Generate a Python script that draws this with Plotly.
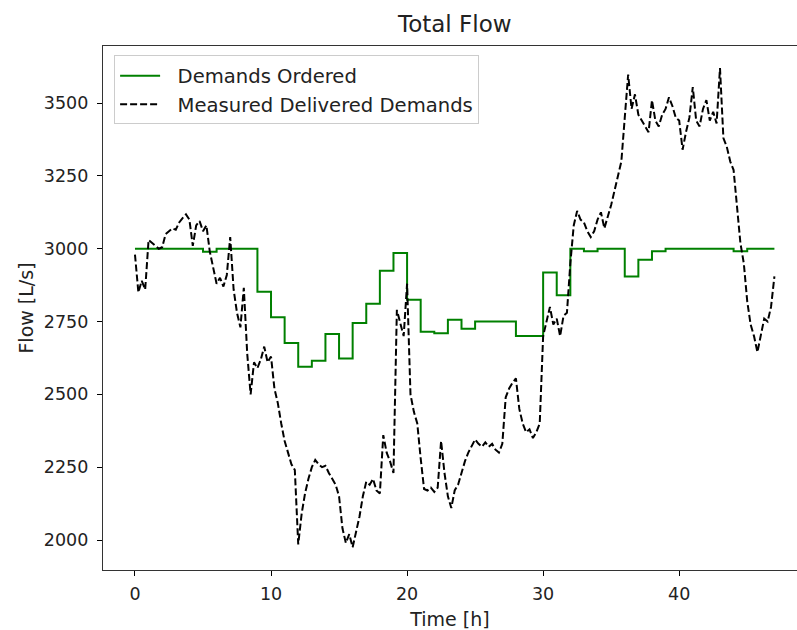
import numpy as np
import plotly.graph_objects as go

# --- data ---
ordered_hours = list(range(0, 48))
ordered_flow = [3000, 3000, 3000, 3000, 3000, 2990, 3000, 3000, 3000, 2852,
                2765, 2676, 2595, 2615, 2707, 2623, 2745, 2811, 2924, 2985,
                2825, 2715, 2710, 2756, 2725, 2750, 2750, 2750, 2700, 2700,
                2918, 2840, 3000, 2991, 3000, 3000, 2905, 2962, 2991, 3000,
                3000, 3000, 3000, 3000, 2991, 3000, 3000, 3000]

measured_time = np.arange(0, 47.01, 0.25)
measured_flow = [
    2980, 2850, 2890, 2860,
    3030, 3020, 3010, 3000,
    3005, 3050, 3060, 3070,
    3065, 3090, 3105, 3118,
    3100, 3010, 3080, 3095,
    3060, 3080, 2990, 2930,
    2880, 2900, 2870, 2910,
    3040, 2860, 2780, 2730,
    2866, 2640, 2500, 2610,
    2590, 2620, 2664, 2610,
    2630, 2520, 2470, 2400,
    2340, 2300, 2260, 2240,
    1985, 2090, 2160, 2210,
    2250, 2275, 2260, 2250,
    2255, 2230, 2210, 2190,
    2150, 2040, 1990, 2020,
    1975, 2030, 2080, 2150,
    2200, 2190, 2210, 2170,
    2160, 2360, 2300, 2270,
    2230, 2790, 2740, 2700,
    2880, 2500, 2440, 2400,
    2280, 2175, 2170, 2180,
    2165, 2180, 2340, 2230,
    2150, 2110, 2170, 2190,
    2230, 2270, 2300, 2320,
    2345, 2330, 2320, 2335,
    2320, 2330, 2310, 2300,
    2330, 2490, 2520, 2540,
    2555, 2450, 2400, 2370,
    2380, 2350, 2370, 2400,
    2700, 2750, 2800, 2740,
    2760, 2700, 2770, 2780,
    2950, 3080, 3130, 3100,
    3090, 3060, 3040, 3060,
    3100, 3125, 3070, 3110,
    3150, 3200, 3250, 3300,
    3450, 3598, 3480, 3530,
    3460, 3440, 3420, 3400,
    3510, 3440, 3420, 3460,
    3480, 3520, 3490, 3450,
    3440, 3340, 3400, 3450,
    3555, 3440, 3420, 3480,
    3510, 3440, 3470, 3430,
    3620, 3380, 3350, 3300,
    3270, 3150, 3020, 2950,
    2820, 2740, 2700, 2645,
    2700, 2760, 2750, 2800,
    2905,
]

x_ticks = [0, 10, 20, 30, 40]
y_ticks = [2000, 2250, 2500, 2750, 3000, 3250, 3500]

FONT = "DejaVu Sans"
NB = "\u00a0\u00a0"

fig = go.Figure()
fig.add_trace(go.Scatter(
    x=ordered_hours, y=ordered_flow, mode="lines", line_shape="hv",
    line=dict(color="#008000", width=2), name=NB + "Demands Ordered"))
fig.add_trace(go.Scatter(
    x=measured_time, y=measured_flow, mode="lines",
    line=dict(color="black", width=2, dash="7px,3px"),
    name=NB + "Measured Delivered Demands"))

fig.update_layout(
    width=797, height=630,
    margin=dict(l=103, r=0, t=46, b=60, pad=0),
    plot_bgcolor="white", paper_bgcolor="white",
    font=dict(family=FONT, size=19, color="#222222"),
    showlegend=True,
    legend=dict(x=0.016, y=0.982, xanchor="left", yanchor="top",
                bgcolor="rgba(255,255,255,0.85)", bordercolor="#cccccc",
                borderwidth=1, font=dict(family=FONT, size=19.6, color="#222222"),
                itemwidth=40, tracegroupgap=0),
    annotations=[dict(text="Total Flow", x=(454 - 103) / 694, y=1 + (46 - 24) / 524,
                      xref="paper", yref="paper", xanchor="center", yanchor="middle",
                      showarrow=False, font=dict(family=FONT, size=23, color="#222222"))],
)

fig.update_xaxes(
    range=[-2.35, 48.66], tickvals=x_ticks, ticks="outside", ticklen=5,
    tickwidth=1.1, tickcolor="black", showline=True, linecolor="#333333",
    linewidth=1.3, mirror=True, showgrid=False, zeroline=False,
    ticklabelstandoff=3,
    title=dict(text="Time [h]", font=dict(family=FONT, size=19), standoff=12),
    tickfont=dict(family=FONT, size=17.5, color="#222222"))
fig.update_yaxes(
    range=[1897, 3696], tickvals=y_ticks, tickformat="d", ticks="outside",
    ticklen=5, tickwidth=1.1, tickcolor="black", showline=True,
    linecolor="#333333", linewidth=1.3, mirror=False, showgrid=False,
    zeroline=False, ticklabelstandoff=5,
    title=dict(text="Flow [L/s]", font=dict(family=FONT, size=19), standoff=5),
    tickfont=dict(family=FONT, size=17.5, color="#222222"))

fig.write_html("out.html")
